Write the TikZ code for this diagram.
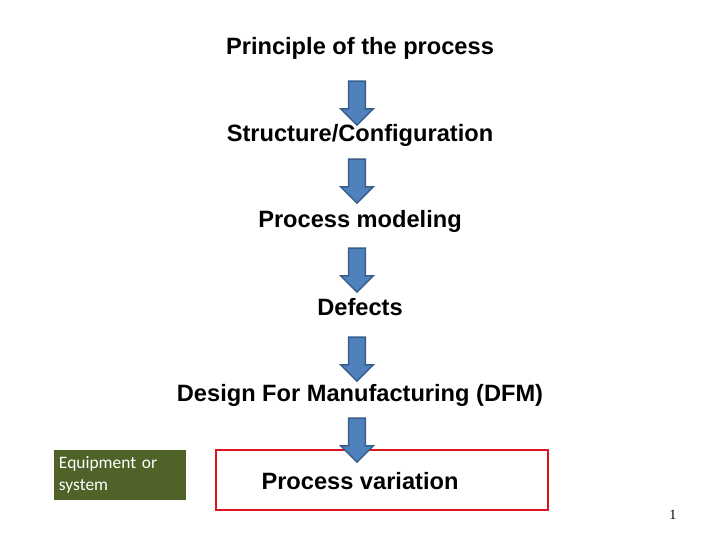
\documentclass[tikz,border=0pt]{standalone}
\usepackage{fontspec}
\setmainfont{Liberation Sans}
\newfontfamily\carlito{Carlito}
\newfontfamily\serifpage{Liberation Serif}
\usetikzlibrary{shapes.arrows,positioning}
\definecolor{arrowblue}{RGB}{79,129,189}
\definecolor{arrowedge}{RGB}{56,93,138}
\definecolor{boxgreen}{RGB}{79,98,40}
\definecolor{boxred}{RGB}{220,20,30}

\begin{document}
\begin{tikzpicture}[
    x=0.025cm, y=-0.025cm,
    stage/.style={font=\fontsize{16.8}{19}\selectfont\bfseries, inner sep=0pt},
    downarrow/.style={single arrow, draw=arrowedge, fill=arrowblue, line width=1pt, shape border rotate=270,
        minimum width=0.8cm, minimum height=1.1cm, single arrow head extend=0.2cm, single arrow head indent=0pt, inner sep=0.19cm},
]
\useasboundingbox (0,0) rectangle (720,540);

% stages
\node[stage] (principle) at (360,48) {Principle of the process};
\node[stage] (structure) at (360,135) {Structure/Configuration};
\node[stage] (modeling) at (360,221) {Process modeling};
\node[stage] (defects) at (360,307) {Defects};
\node[stage] (dfm) at (360,395) {Design For Manufacturing (DFM)};

% red box
\node[draw=boxred, line width=1.5pt, minimum width=8.3cm, minimum height=1.5cm] (varbox) at (382,480) {};
\node[stage] (variation) at (360,481) {Process variation};

% arrows
\node[downarrow] (a1) at (357,99) {};
\node[downarrow] (a2) at (357,177) {};
\node[downarrow] (a3) at (357,266) {};
\node[downarrow] (a4) at (357,355) {};
\node[downarrow] (a5) at (357,436) {};

% side box
\node[fill=boxgreen, text=white, font=\carlito\fontsize{12.4}{15.6}\selectfont, align=left,
    minimum width=3.3cm, minimum height=1.25cm, text width=3.05cm] (equip) at (120,475) {Equipment or\\system};

\node[font=\serifpage\fontsize{10}{12}\selectfont] (page) at (673,515) {1};
\end{tikzpicture}
\end{document}
